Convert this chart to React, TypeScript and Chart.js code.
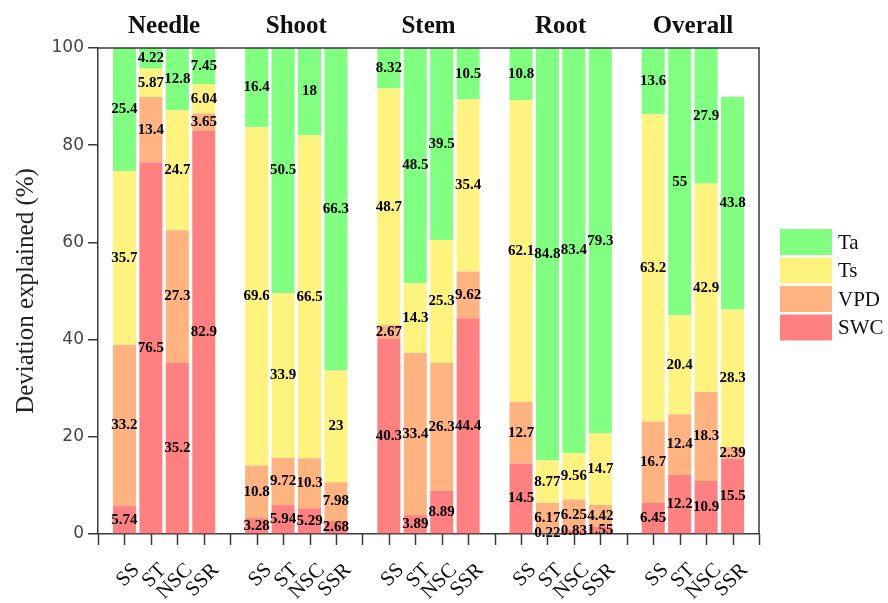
import { useEffect, useRef } from 'react';
import { Chart, registerables } from 'chart.js';

Chart.register(...registerables);

const organs = ['Needle', 'Shoot', 'Stem', 'Root', 'Overall'];
const indices = ['SS', 'ST', 'NSC', 'SSR'];

// Contribution of each factor (%), organ by organ, bars in the order SS, ST, NSC, SSR
const swc = [5.74, 76.5, 35.2, 82.9, 3.28, 5.94, 5.29, 2.68, 40.3, 3.89, 8.89, 44.4, 14.5, 0.22, 0.83, 1.55, 6.45, 12.2, 10.9, 15.5];
const vpd = [33.2, 13.4, 27.3, 3.65, 10.8, 9.72, 10.3, 7.98, 2.67, 33.4, 26.3, 9.62, 12.7, 6.17, 6.25, 4.42, 16.7, 12.4, 18.3, 2.39];
const ts = [35.7, 5.87, 24.7, 6.04, 69.6, 33.9, 66.5, 23, 48.7, 14.3, 25.3, 35.4, 62.1, 8.77, 9.56, 14.7, 63.2, 20.4, 42.9, 28.3];
const ta = [25.4, 4.22, 12.8, 7.45, 16.4, 50.5, 18, 66.3, 8.32, 48.5, 39.5, 10.5, 10.8, 84.8, 83.4, 79.3, 13.6, 55, 27.9, 43.8];

const yTicks = [0, 20, 40, 60, 80, 100];

const SERIF = '"Liberation Serif", "Times New Roman", serif';
const AXIS = '#3a3a3a';
const X_TICK_LEN = 11;

// One empty slot before every organ group and one after the last group
const slotLabels: string[] = [];
organs.forEach(() => {
  slotLabels.push('');
  indices.forEach((s) => slotLabels.push(s));
});
slotLabels.push('');

function toSlots(values: number[]): (number | null)[] {
  const out: (number | null)[] = [];
  organs.forEach((_, g) => {
    out.push(null);
    for (let j = 0; j < indices.length; j++) out.push(values[g * indices.length + j]);
  });
  out.push(null);
  return out;
}

const series = [
  { label: 'SWC', values: swc, color: '#FF8080' },
  { label: 'VPD', values: vpd, color: '#FFB380' },
  { label: 'Ts', values: ts, color: '#FFF380' },
  { label: 'Ta', values: ta, color: '#80FF80' },
];

const valueLabels = {
  id: 'valueLabels',
  afterDatasetsDraw(chart: any) {
    const ctx = chart.ctx;
    ctx.save();
    ctx.font = `bold 15px ${SERIF}`;
    ctx.fillStyle = '#000';
    ctx.textAlign = 'center';
    ctx.textBaseline = 'middle';
    chart.data.datasets.forEach((ds: any, i: number) => {
      const meta = chart.getDatasetMeta(i);
      meta.data.forEach((bar: any, j: number) => {
        const v = ds.data[j];
        if (v === null || v === undefined) return;
        const { x, y, base } = bar.getProps(['x', 'y', 'base'], true);
        ctx.fillText(String(v), x, (y + base) / 2);
      });
    });
    ctx.restore();
  },
};

const frameAndTitles = {
  id: 'frameAndTitles',
  afterDraw(chart: any) {
    const ctx = chart.ctx;
    const { left, right, top, bottom } = chart.chartArea;
    const xs = chart.scales.x;
    ctx.save();
    ctx.strokeStyle = AXIS;
    ctx.lineWidth = 1.5;
    // top and right edges of the plot frame
    ctx.beginPath();
    ctx.moveTo(left, top);
    ctx.lineTo(right, top);
    ctx.lineTo(right, bottom);
    ctx.stroke();

    // tick marks under every slot of the x axis
    ctx.beginPath();
    for (let i = 0; i < slotLabels.length; i++) {
      const px = Math.round(xs.getPixelForValue(i)) + 0.5;
      ctx.moveTo(px, bottom);
      ctx.lineTo(px, bottom + X_TICK_LEN);
    }
    ctx.stroke();

    // organ names above each group
    ctx.fillStyle = '#111';
    ctx.font = `bold 25px ${SERIF}`;
    ctx.textAlign = 'center';
    ctx.textBaseline = 'alphabetic';
    organs.forEach((name, g) => {
      const c = g * (indices.length + 1) + (indices.length + 1) / 2;
      ctx.fillText(name, xs.getPixelForValue(c), 33);
    });

    // legend, top factor first
    const boxX = 780;
    const boxW = 52;
    const boxH = 26;
    const startY = 229;
    const stepY = 28.5;
    ctx.font = `21px ${SERIF}`;
    ctx.textAlign = 'left';
    ctx.textBaseline = 'middle';
    const rev = chart.data.datasets.slice().reverse();
    rev.forEach((ds: any, k: number) => {
      const y = startY + k * stepY;
      ctx.fillStyle = ds.backgroundColor;
      ctx.fillRect(boxX, y, boxW, boxH);
      ctx.fillStyle = '#111';
      ctx.fillText(ds.label, boxX + boxW + 6, y + boxH / 2 + 1);
    });
    ctx.restore();
  },
};

export default function App() {
  const canvasRef = useRef<HTMLCanvasElement | null>(null);

  useEffect(() => {
    const canvas = canvasRef.current;
    if (!canvas) return;
    const chart = new Chart(canvas, {
      type: 'bar',
      data: {
        labels: slotLabels,
        datasets: series.map((s) => ({
          label: s.label,
          data: toSlots(s.values),
          backgroundColor: s.color,
          borderWidth: 0,
          barPercentage: 0.87,
          categoryPercentage: 1,
          clip: 0,
        })),
      },
      options: {
        responsive: false,
        animation: false,
        devicePixelRatio: 1,
        layout: { padding: { top: 48, right: 129, left: 0, bottom: 0 } },
        plugins: {
          legend: { display: false },
          tooltip: { enabled: false },
        },
        scales: {
          x: {
            type: 'category',
            stacked: true,
            offset: false,
            grid: {
              offset: false,
              drawOnChartArea: false,
              drawTicks: false,
            },
            border: { display: true, color: AXIS, width: 1.5 },
            ticks: {
              autoSkip: false,
              minRotation: 45,
              maxRotation: 45,
              padding: 13 + X_TICK_LEN,
              labelOffset: 12,
              color: '#111',
              font: { family: SERIF, size: 21 },
            },
            afterFit(scale: any) {
              scale.height = 69;
            },
          },
          y: {
            stacked: true,
            min: 0,
            max: 100,
            afterBuildTicks(scale: any) {
              scale.ticks = yTicks.map((v) => ({ value: v }));
            },
            grid: {
              drawOnChartArea: false,
              drawTicks: true,
              tickLength: 10,
              color: AXIS,
              lineWidth: 1.5,
            },
            border: { display: true, color: AXIS, width: 1.5 },
            ticks: {
              padding: 4,
              color: '#444',
              font: { family: '"DejaVu Sans", sans-serif', size: 17 },
            },
            title: {
              display: true,
              text: 'Deviation explained (%)',
              color: '#222',
              font: { family: SERIF, size: 25 },
              padding: { top: 11, bottom: 0 },
            },
            afterFit(scale: any) {
              scale.width = 98;
            },
          },
        },
      },
      plugins: [valueLabels, frameAndTitles],
    });
    return () => chart.destroy();
  }, []);

  return (
    <div style={{ position: 'fixed', left: 0, top: 0, width: 888, height: 603, background: '#fff' }}>
      <canvas ref={canvasRef} width={888} height={603} />
    </div>
  );
}
